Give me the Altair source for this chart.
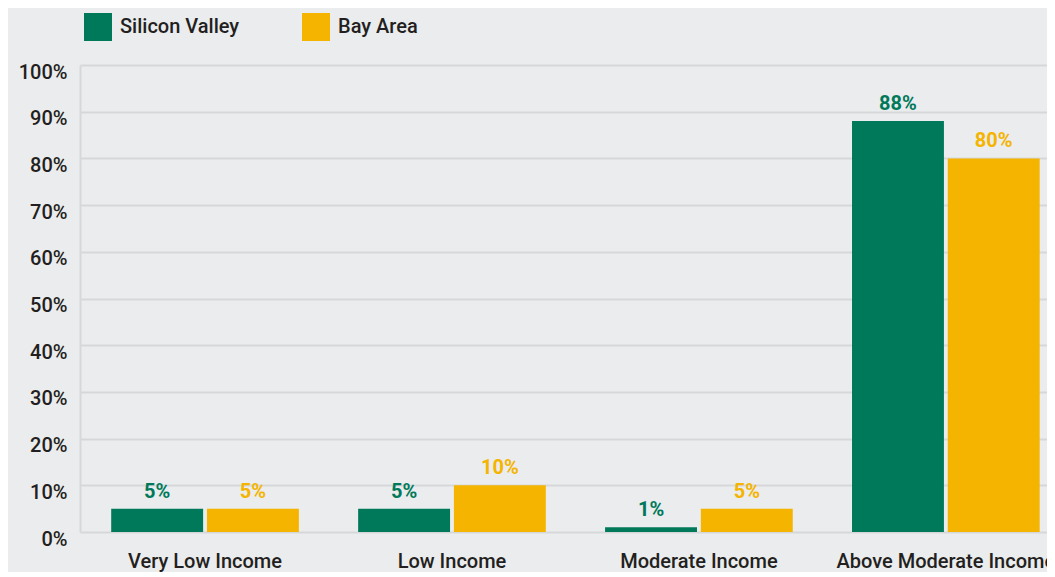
import altair as alt
import pandas as pd

categories = ["Very Low Income", "Low Income", "Moderate Income", "Above Moderate Income"]
silicon_valley = [5, 5, 1, 88]
bay_area = [5, 10, 5, 80]
series = ["Silicon Valley", "Bay Area"]
colors = ["#00795a", "#f4b400"]

rows = []
for c, a, b in zip(categories, silicon_valley, bay_area):
    rows.append({"cat": c, "series": series[0], "value": a, "label": f"{a}%"})
    rows.append({"cat": c, "series": series[1], "value": b, "label": f"{b}%"})
df = pd.DataFrame(rows)

FONT = "Roboto"
TXT = "#231f20"

xscale = alt.Scale(paddingInner=0.24, paddingOuter=0.078, align=0.81)
x = alt.X("cat:N", sort=categories, title=None, scale=xscale,
          axis=alt.Axis(labelAngle=0, labelFontSize=20, labelFont=FONT, labelColor=TXT,
                        labelPadding=19, ticks=False, domain=False, grid=False,
                        labelFontWeight=500, labelLimit=0))
xo = alt.XOffset("series:N", sort=series, scale=alt.Scale(paddingInner=0.04))
y = alt.Y("value:Q", title=None,
          scale=alt.Scale(domain=[0, 100], nice=False),
          axis=alt.Axis(values=list(range(0, 101, 10)), labelExpr="datum.value + '%'",
                        labelFontSize=20, labelFont=FONT, labelColor=TXT, labelFontWeight=500,
                        labelPadding=13, labelOffset=7, ticks=False, domain=True,
                        domainColor="#d6d7d9", domainWidth=2, gridColor="#d6d7d9", gridWidth=2))
color = alt.Color("series:N", sort=series,
                  scale=alt.Scale(domain=series, range=colors),
                  legend=alt.Legend(title=None, orient="none", legendX=4, legendY=-52,
                                    direction="horizontal", symbolType="square", symbolSize=784,
                                    symbolStrokeWidth=0, labelFontSize=20, labelFont=FONT,
                                    labelColor=TXT, labelFontWeight=500,
                                    columnPadding=62, labelOffset=8))

bars = alt.Chart(df).mark_bar().encode(x=x, xOffset=xo, y=y, color=color)
labels = alt.Chart(df).mark_text(baseline="bottom", dy=-7, fontSize=20, font=FONT,
                                 fontWeight="bold").encode(
    x=alt.X("cat:N", sort=categories, scale=xscale),
    xOffset=alt.XOffset("series:N", sort=series, scale=alt.Scale(paddingInner=0.04)),
    y="value:Q", text="label:N",
    color=alt.Color("series:N", sort=series, scale=alt.Scale(domain=series, range=colors), legend=None))

chart = alt.layer(bars, labels).properties(
    width=967, height=467,
    background="#ebecee",
    padding={"left": 72, "top": 57, "right": 0, "bottom": 40},
    autosize=alt.AutoSizeParams(type="none"),
).configure_view(stroke=None, fill="#ebecee")

chart.save("out.html", embed_options={"renderer": "svg", "actions": False})
